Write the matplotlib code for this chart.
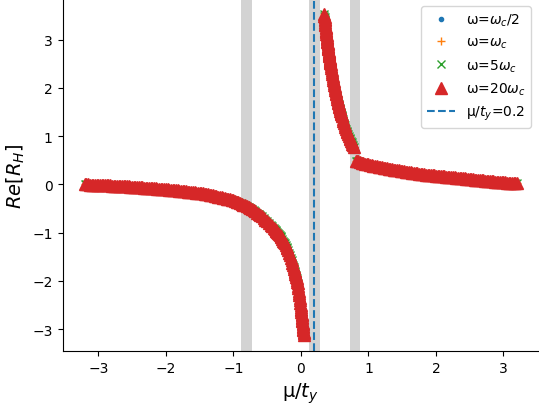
import matplotlib
matplotlib.use("Agg")
import matplotlib.pyplot as plt

# Hall response Re[R_H] against chemical potential mu / t_y, one list pair per branch
mu_left = [
    -3.200, -3.175, -3.150, -3.125, -3.100, -3.075, -3.050, -3.025, -3.000, -2.975,
    -2.950, -2.925, -2.900, -2.875, -2.850, -2.825, -2.800, -2.775, -2.750, -2.725,
    -2.700, -2.675, -2.650, -2.625, -2.600, -2.575, -2.550, -2.525, -2.500, -2.475,
    -2.450, -2.425, -2.400, -2.375, -2.350, -2.325, -2.300, -2.275, -2.250, -2.225,
    -2.200, -2.175, -2.150, -2.125, -2.100, -2.075, -2.050, -2.025, -2.000, -1.975,
    -1.950, -1.925, -1.900, -1.875, -1.850, -1.825, -1.800, -1.775, -1.750, -1.725,
    -1.700, -1.675, -1.650, -1.625, -1.600, -1.575, -1.550, -1.525, -1.500, -1.475,
    -1.450, -1.425, -1.400, -1.375, -1.350, -1.325, -1.300, -1.275, -1.250, -1.225,
    -1.200, -1.175, -1.150, -1.125, -1.100, -1.075, -1.050, -1.025, -1.000, -0.975,
    -0.950, -0.925, -0.900, -0.875, -0.850, -0.825, -0.800, -0.775, -0.750, -0.725,
    -0.700, -0.675, -0.650, -0.625, -0.600, -0.575, -0.550, -0.525, -0.500, -0.475,
    -0.450, -0.425, -0.400, -0.3875, -0.375, -0.3625, -0.350, -0.3375, -0.325, -0.3125,
    -0.300, -0.2875, -0.275, -0.2625, -0.250, -0.2375, -0.225, -0.2125, -0.200, -0.1875,
    -0.175, -0.1625, -0.150, -0.1375, -0.125, -0.1125, -0.100, -0.095, -0.090, -0.085,
    -0.080, -0.075, -0.070, -0.065, -0.060, -0.055, -0.050, -0.045, -0.040, -0.035,
    -0.030, -0.025, -0.020, -0.015, -0.010, -0.005, 0.000, 0.0025, 0.005, 0.0075,
    0.010, 0.0125, 0.015, 0.0175, 0.020, 0.0225, 0.025, 0.0275, 0.030, 0.0325,
    0.035, 0.0375, 0.040, 0.0425, 0.045,
]
rh_left = [
    0.000, -0.002, -0.003, -0.004, -0.005, -0.007, -0.008, -0.009, -0.010, -0.012,
    -0.014, -0.016, -0.018, -0.020, -0.021, -0.023, -0.025, -0.027, -0.029, -0.031,
    -0.033, -0.035, -0.036, -0.038, -0.040, -0.043, -0.045, -0.048, -0.050, -0.053,
    -0.055, -0.058, -0.060, -0.063, -0.065, -0.068, -0.070, -0.073, -0.075, -0.078,
    -0.080, -0.083, -0.085, -0.088, -0.090, -0.093, -0.095, -0.098, -0.100, -0.104,
    -0.108, -0.112, -0.115, -0.119, -0.123, -0.127, -0.130, -0.134, -0.138, -0.142,
    -0.145, -0.149, -0.153, -0.157, -0.160, -0.165, -0.170, -0.175, -0.180, -0.185,
    -0.190, -0.195, -0.200, -0.208, -0.215, -0.223, -0.230, -0.238, -0.245, -0.253,
    -0.260, -0.269, -0.278, -0.287, -0.295, -0.304, -0.313, -0.322, -0.330, -0.345,
    -0.360, -0.375, -0.390, -0.405, -0.420, -0.435, -0.450, -0.473, -0.495, -0.518,
    -0.540, -0.563, -0.585, -0.608, -0.630, -0.664, -0.698, -0.732, -0.765, -0.799,
    -0.833, -0.867, -0.900, -0.921, -0.943, -0.964, -0.985, -1.006, -1.028, -1.049,
    -1.070, -1.101, -1.133, -1.164, -1.195, -1.226, -1.258, -1.289, -1.320, -1.370,
    -1.420, -1.470, -1.520, -1.570, -1.620, -1.670, -1.720, -1.753, -1.786, -1.819,
    -1.852, -1.885, -1.918, -1.951, -1.984, -2.017, -2.050, -2.100, -2.150, -2.200,
    -2.250, -2.300, -2.350, -2.400, -2.450, -2.500, -2.550, -2.582, -2.613, -2.645,
    -2.677, -2.708, -2.740, -2.772, -2.803, -2.835, -2.867, -2.898, -2.930, -2.962,
    -2.993, -3.025, -3.057, -3.088, -3.120,
]

mu_upper = [
    0.345, 0.3475, 0.350, 0.3525, 0.355, 0.3575, 0.360, 0.3625, 0.365, 0.3675,
    0.370, 0.3725, 0.375, 0.3775, 0.380, 0.3825, 0.385, 0.3875, 0.390, 0.3925,
    0.395, 0.3975, 0.400, 0.4025, 0.405, 0.4075, 0.410, 0.4125, 0.415, 0.4175,
    0.420, 0.4225, 0.425, 0.4275, 0.430, 0.4325, 0.435, 0.4375, 0.440, 0.445,
    0.450, 0.455, 0.460, 0.465, 0.470, 0.475, 0.480, 0.485, 0.490, 0.495,
    0.500, 0.505, 0.510, 0.515, 0.520, 0.525, 0.530, 0.535, 0.540, 0.545,
    0.550, 0.555, 0.560, 0.565, 0.570, 0.575, 0.580, 0.585, 0.590, 0.595,
    0.600, 0.605, 0.61, 0.62, 0.63, 0.64, 0.65, 0.66, 0.67, 0.68,
    0.69, 0.70, 0.71, 0.72, 0.73, 0.74, 0.75, 0.76, 0.77, 0.78,
]
rh_upper = [
    3.531, 3.497, 3.463, 3.430, 3.396, 3.364, 3.332, 3.301, 3.269, 3.239,
    3.208, 3.178, 3.148, 3.119, 3.090, 3.062, 3.033, 3.006, 2.978, 2.951,
    2.924, 2.898, 2.871, 2.845, 2.819, 2.794, 2.769, 2.745, 2.720, 2.696,
    2.672, 2.649, 2.625, 2.602, 2.579, 2.557, 2.534, 2.512, 2.490, 2.446,
    2.404, 2.363, 2.323, 2.283, 2.244, 2.206, 2.169, 2.132, 2.096, 2.062,
    2.027, 1.994, 1.960, 1.928, 1.895, 1.864, 1.833, 1.803, 1.773, 1.744,
    1.715, 1.687, 1.659, 1.632, 1.605, 1.579, 1.553, 1.528, 1.502, 1.478,
    1.453, 1.430, 1.406, 1.360, 1.315, 1.272, 1.230, 1.190, 1.150, 1.112,
    1.075, 1.038, 1.003, 0.969, 0.935, 0.903, 0.871, 0.840, 0.810, 0.781,
]

mu_right = [
    0.810, 0.830, 0.850, 0.875, 0.900, 0.925, 0.950, 0.975, 1.000, 1.025,
    1.050, 1.075, 1.100, 1.125, 1.150, 1.175, 1.200, 1.225, 1.250, 1.275,
    1.300, 1.325, 1.350, 1.375, 1.400, 1.425, 1.450, 1.475, 1.500, 1.525,
    1.550, 1.575, 1.600, 1.625, 1.650, 1.675, 1.700, 1.725, 1.750, 1.775,
    1.800, 1.825, 1.850, 1.875, 1.900, 1.925, 1.950, 1.975, 2.000, 2.025,
    2.050, 2.075, 2.100, 2.125, 2.150, 2.175, 2.200, 2.225, 2.250, 2.275,
    2.300, 2.325, 2.350, 2.375, 2.400, 2.425, 2.450, 2.475, 2.500, 2.525,
    2.550, 2.575, 2.600, 2.625, 2.650, 2.675, 2.700, 2.725, 2.750, 2.775,
    2.800, 2.825, 2.850, 2.875, 2.900, 2.925, 2.950, 2.975, 3.000, 3.025,
    3.050, 3.075, 3.100, 3.125, 3.150, 3.175, 3.200,
]
rh_right = [
    0.490, 0.482, 0.473, 0.463, 0.452, 0.442, 0.431, 0.422, 0.412, 0.404,
    0.396, 0.388, 0.380, 0.373, 0.365, 0.358, 0.350, 0.344, 0.337, 0.331,
    0.324, 0.318, 0.311, 0.305, 0.299, 0.293, 0.287, 0.281, 0.275, 0.269,
    0.263, 0.258, 0.252, 0.247, 0.241, 0.236, 0.231, 0.226, 0.221, 0.217,
    0.212, 0.208, 0.203, 0.199, 0.195, 0.191, 0.187, 0.184, 0.180, 0.177,
    0.173, 0.170, 0.166, 0.163, 0.159, 0.156, 0.152, 0.149, 0.145, 0.142,
    0.138, 0.135, 0.131, 0.128, 0.124, 0.121, 0.117, 0.114, 0.110, 0.107,
    0.103, 0.100, 0.096, 0.093, 0.089, 0.086, 0.082, 0.079, 0.075, 0.072,
    0.068, 0.065, 0.061, 0.058, 0.054, 0.051, 0.047, 0.044, 0.041, 0.039,
    0.036, 0.034, 0.031, 0.029, 0.026, 0.024, 0.021,
]

mu_all = mu_left + mu_upper + mu_right
rh_all = rh_left + rh_upper + rh_right

# The four driving frequencies give practically the same curve
series_labels = [r"ω=$\omega_c$/2", r"ω=$\omega_c$", r"ω=5$\omega_c$", r"ω=20$\omega_c$"]
series_markers = [".", "+", "x", "^"]
series_colors = ["tab:blue", "tab:orange", "tab:green", "tab:red"]
series_sizes = [6, 6, 6, 8]

# Shaded windows and the reference chemical potential
band_centers = [-0.8, 0.2, 0.8]
band_halfwidth = 0.08
mu_ref = 0.2

fig = plt.figure(figsize=(5.39, 4.10), dpi=100)
ax = fig.add_axes([0.116, 0.1407, 0.882, 0.8593])

for c in band_centers:
    ax.axvspan(c - band_halfwidth, c + band_halfwidth, color="lightgray", lw=0, zorder=0)

for lab, mk, col, ms in zip(series_labels, series_markers, series_colors, series_sizes):
    ax.plot(mu_all, rh_all, linestyle="none", marker=mk, color=col,
            markersize=ms, label=lab)

ax.axvline(mu_ref, color="tab:blue", linestyle="--", linewidth=1.5,
           label=r"μ/$t_y$=0.2")

ax.set_xlim(-3.53, 3.51)
ax.set_ylim(-3.46, 3.84)
ax.set_xticks([-3, -2, -1, 0, 1, 2, 3])
ax.set_yticks([-3, -2, -1, 0, 1, 2, 3])
ax.spines["top"].set_visible(False)
ax.spines["right"].set_visible(False)

ax.set_xlabel(r"μ/$t_y$", fontsize=14)
ax.set_ylabel(r"$Re[R_H]$", fontsize=14)

ax.legend(loc="upper right", fontsize=10)

fig.savefig("out.png", dpi=100)
